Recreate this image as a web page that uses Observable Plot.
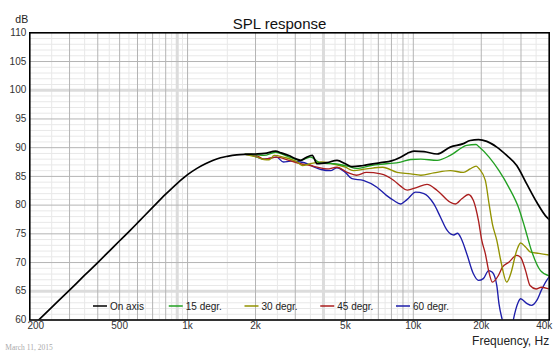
<!DOCTYPE html>
<html><head><meta charset="utf-8">
<script src="https://cdn.jsdelivr.net/npm/d3@7"></script>
<script src="https://cdn.jsdelivr.net/npm/@observablehq/plot@0.6"></script>
<style>body{margin:0;background:#fff}</style>
</head><body><div id="chart"></div>
<script>
// ---- data ----
const seriesNames = ["On axis", "15 degr.", "30 degr.", "45 degr.", "60 degr."];
const seriesColors = ["#000000", "#22a022", "#929200", "#aa1e1e", "#1e1eaa"];

const onAxisF = [200,250,300,350,400,450,500,550,600,700,800,900,1000,1100,1200,1300,1400,1500,1650,1800,2000,2200,2453,2600,2809,3000,3171,3350,3566,3752,4155,4594,5000,5350,6000,7170,8000,8784,9400,10060,11150,12760,14580,16670,17860,19440,21160,23440,25940,28720,31800,35240,38990,40000];
const onAxisDB = [58.5,62.2,65.2,67.8,70.0,72.0,73.8,75.4,76.9,79.6,81.9,83.8,85.3,86.4,87.2,87.8,88.25,88.5,88.75,88.85,88.9,89.0,89.4,89.1,88.65,88.1,87.8,88.3,88.65,87.2,87.4,87.8,87.2,86.7,86.9,87.4,87.7,88.35,89.0,89.4,89.3,88.9,90.1,90.7,91.25,91.4,91.1,90.1,88.65,86.9,83.7,80.5,77.9,77.5];

const deg15F = [1800,2000,2180,2453,2809,3171,3500,3900,4450,5100,5600,6500,7600,8784,9730,10800,12760,14580,17250,18960,19600,21660,23970,26500,29300,31130,33370,36600,40000];
const deg15DB = [88.85,88.8,88.65,89.2,88.4,87.8,88.35,87.3,87.2,86.8,86.4,86.9,87.2,87.5,87.95,88.0,87.8,88.65,90.4,90.55,90.1,88.35,86.0,83.1,79.5,76.2,72.1,68.6,67.7];

const deg30F = [1800,2030,2180,2300,2420,2660,3060,3220,3500,3900,4380,5000,5420,6200,7320,8480,9730,10800,12330,14580,16670,17860,19000,19600,20850,21660,22400,23440,24390,25940,27010,28720,29860,31430,33100,36000,40000];
const deg30DB = [88.85,88.35,87.95,87.9,88.65,88.35,87.5,86.9,87.2,87.5,87.2,86.6,86.0,86.3,86.6,85.7,85.45,85.2,85.6,86.0,85.7,86.3,86.8,86.3,84.3,80.2,76.75,73.85,70.4,66.6,68.05,72.1,73.4,72.7,71.8,71.6,71.3];

const deg45F = [1800,2000,2180,2480,2810,3170,3500,3750,4150,4590,5100,5600,6200,7170,8200,8784,9400,10390,11500,12760,14580,15350,16400,17520,18460,19440,20110,20850,21560,22400,23820,24820,26500,28720,29860,31430,32900,35000,36900,40000];
const deg45DB = [88.85,88.7,88.0,88.35,87.8,87.2,86.9,86.6,86.3,86.6,85.7,85.2,85.7,85.45,84.3,83.3,82.6,83.1,83.6,82.55,80.5,80.2,81.1,81.85,80.8,77.3,73.85,71.55,68.6,66.6,67.75,69.2,70.07,71.24,70.94,68.6,66.0,65.4,65.7,65.4];

const deg60F = [1800,1900,2030,2180,2480,2660,2860,3170,3400,3650,3900,4300,4590,5000,5350,6000,6900,7600,8200,8780,9400,10240,11150,12330,13200,14130,15100,15700,16300,17250,18460,19440,20430,21560,22400,23440,23970,24820,25800,27000,27700,29160,29860,31800,33370,35240,36900,38990,40000];
const deg60DB = [88.85,88.76,88.35,88.0,88.35,87.5,87.65,87.5,87.2,86.6,86.2,86.0,86.5,85.7,84.6,84.3,83.1,81.7,80.8,80.2,81.0,82.25,82.0,80.2,77.9,75.6,74.8,75.1,74.2,71.55,68.05,66.9,67.2,68.6,68.3,66.0,62.8,59.9,57.0,57.5,59.9,63.1,63.7,62.9,62.55,63.4,65.15,66.9,67.5];

const xTickValues = [200, 500, 1000, 2000, 5000, 10000, 20000, 40000];
const xTickLabels = ["200", "500", "1k", "2k", "5k", "10k", "20k", "40k"];
const yTickValues = [60, 65, 70, 75, 80, 85, 90, 95, 100, 105, 110];

const xMajorGrid = [300,400,500,600,700,800,1000,2000,3000,5000,6000,7000,8000,9000,10000,20000,30000];
const xMinorGrid = [250,350,450,550,650,750,850,950,1500,2500,3500,4500,5500,6500,7500,8500,9500,15000,25000,35000];
const xHighlightGrid = [900, 4000];
const yMajorGrid = [70, 75, 80, 85, 90, 95, 105];
const yMinorGrid = d3.range(61, 110).filter(v => v % 5 !== 0);
const yHighlightGrid = [65, 100];

// ---- build table ----
const seriesF = [onAxisF, deg15F, deg30F, deg45F, deg60F];
const seriesDB = [onAxisDB, deg15DB, deg30DB, deg45DB, deg60DB];
const table = [];
seriesNames.forEach((name, s) => {
  seriesF[s].forEach((f, i) => table.push({series: name, f, db: seriesDB[s][i]}));
});

const W = 560, H = 356;
const mL = 29.3, mR = 11.3, mT = 32.3, mB = 36.5;
const grey = "#333";

const lineMarks = seriesNames.slice().reverse().map((name) => {
  const si = seriesNames.indexOf(name);
  return Plot.line(table.filter(d => d.series === name), {
    x: "f", y: "db", stroke: seriesColors[si], strokeWidth: si === 0 ? 1.7 : 1.35,
    curve: "monotone-x", clip: true
  });
});

const chart = Plot.plot({
  width: W, height: H,
  marginLeft: mL, marginRight: mR, marginTop: mT, marginBottom: mB,
  style: {fontFamily: "'Liberation Sans', Arial, sans-serif", fontSize: "10px", background: "#fff", overflow: "visible"},
  x: {type: "log", domain: [200, 40000], axis: null},
  y: {domain: [60, 110], axis: null},
  marks: [
    Plot.ruleY(yMinorGrid, {stroke: "#e8e8e8", strokeWidth: 1}),
    Plot.ruleX(xMinorGrid, {stroke: "#e8e8e8", strokeWidth: 1}),
    Plot.ruleY(yHighlightGrid, {stroke: "#dcdcdc", strokeWidth: 3}),
    Plot.ruleX(xHighlightGrid, {stroke: "#dcdcdc", strokeWidth: 3}),
    Plot.ruleY(yMajorGrid, {stroke: "#b4b4b4", strokeWidth: 1}),
    Plot.ruleX(xMajorGrid, {stroke: "#b4b4b4", strokeWidth: 1}),
    ...lineMarks,
    Plot.frame({stroke: "#000", strokeWidth: 1.6}),
    // x tick labels
    Plot.text(xTickValues.slice(1, -1), {x: d => d, text: d => xTickLabels[xTickValues.indexOf(d)], frameAnchor: "bottom", dy: 9, fill: grey, fontSize: 10}),
    Plot.text([xTickValues[0]], {x: d => d, text: d => xTickLabels[0], frameAnchor: "bottom", dy: 9, dx: 6, fill: grey, fontSize: 10}),
    Plot.text([xTickValues[xTickValues.length - 1]], {x: d => d, text: d => xTickLabels[xTickLabels.length - 1], frameAnchor: "bottom", dy: 9, dx: -5, fill: grey, fontSize: 10}),
    // y tick labels
    Plot.text(yTickValues, {y: d => d, text: d => String(d), frameAnchor: "left", textAnchor: "end", dx: -3.5, fill: grey, fontSize: 10}),
    // titles
    Plot.text(["SPL response"], {frameAnchor: "top", dx: -10, dy: -14.5, fontSize: 15, fill: "#111"}),
    Plot.text(["dB"], {frameAnchor: "top-left", textAnchor: "start", dx: -14.5, dy: -17.5, fontSize: 10.5, fill: "#222"}),
    Plot.text(["Frequency, Hz"], {frameAnchor: "bottom-right", textAnchor: "end", dy: 25, fontSize: 12, fill: "#222"}),
    Plot.text(["March 11, 2015"], {frameAnchor: "bottom-left", textAnchor: "start", dx: -24.5, dy: 29.5, fontSize: 7.5, fill: "#aaa", fontFamily: "'Liberation Serif', serif"})
  ]
});

// legend (layout only)
const svg = d3.select(chart);
const legY = H - mB - 13.5;
const leg = svg.append("g").attr("font-family", "'Liberation Sans', Arial, sans-serif").attr("font-size", 10).attr("text-anchor", "start");
seriesNames.forEach((name, i) => {
  const x0 = 93 + i * 75.75;
  leg.append("line").attr("x1", x0).attr("x2", x0 + 14).attr("y1", legY).attr("y2", legY)
    .attr("stroke", seriesColors[i]).attr("stroke-width", 1.5);
  leg.append("text").attr("x", x0 + 17).attr("y", legY).attr("dy", "0.35em").attr("text-anchor", "start").attr("fill", "#222").text(name);
});

document.getElementById("chart").appendChild(chart);
</script>
</body></html>
